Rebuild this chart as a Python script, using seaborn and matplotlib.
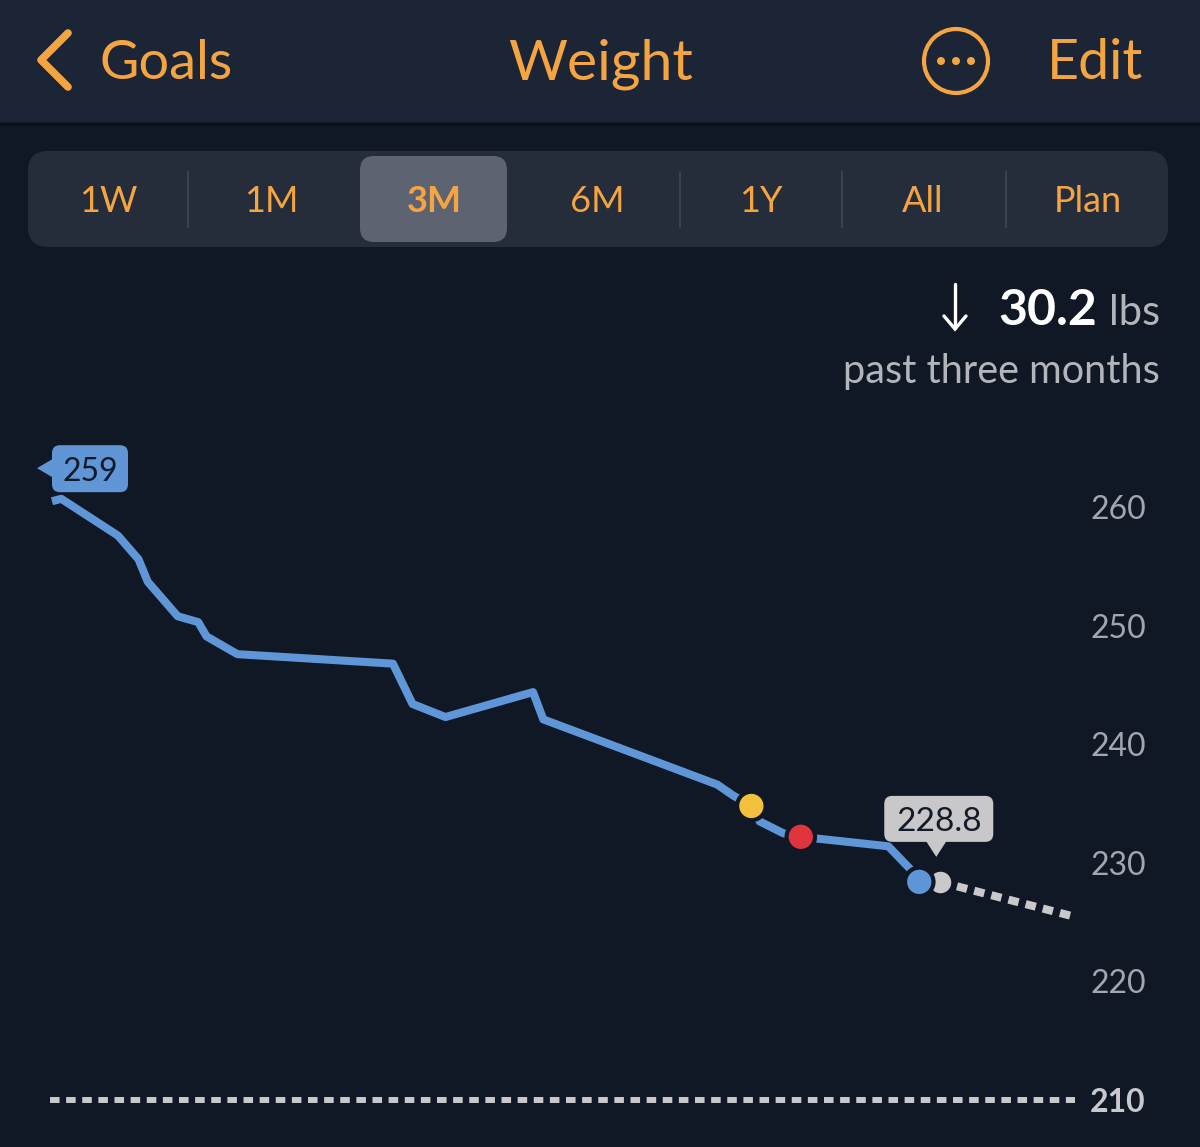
import matplotlib
matplotlib.use("Agg")
import matplotlib.pyplot as plt
import seaborn as sns
import pandas as pd
from matplotlib.patches import FancyBboxPatch, Polygon, Circle, Rectangle

# ---------------- data ----------------
days = [0.0, 0.9, 6.4, 8.4, 9.3, 12.2, 14.2, 15.0, 18.0, 33.1, 35.0, 38.2,
        46.7, 47.7, 64.6, 66.1, 67.9, 68.7, 71.0, 72.7, 81.2, 83.3, 84.2]
weights = [260.5, 260.7, 257.6, 255.6, 253.7, 250.8, 250.3, 249.1, 247.6, 246.8, 243.4, 242.3,
           244.4, 242.1, 236.6, 235.7, 234.8, 233.5, 232.5, 232.2, 231.4, 229.5, 228.4]
proj_days = [86.2, 99.1]
proj_weights = [228.4, 225.5]
marker_days = [67.9, 72.7, 84.2]
marker_weights = [234.8, 232.2, 228.4]
marker_kind = ["milestone", "alert", "latest"]
marker_colors = ["#f2c03c", "#e0343c", "#5e96d8"]
goal_weight = 210
goal_days = [-0.2, 99.3]
y_ticks = [210, 220, 230, 240, 250, 260]
periods = ["1W", "1M", "3M", "6M", "1Y", "All", "Plan"]
selected_period = "3M"
start_label = "259"
latest_label = "228.8"
change_value = "30.2"
change_unit = "lbs"
change_caption = "past three months"
title = "Weight"
back_label = "Goals"
edit_label = "Edit"

# ---------------- style ----------------
W, H = 1200, 1147
BG = "#101826"
HEADER = "#1b2535"
ORANGE = "#f5a442"
LINE = "#5f96d8"
GRAY_DOT = "#c9c9cb"
TICK = "#a3a6ad"

sns.set_theme(style="dark")
plt.rcParams['font.family'] = ['Lato', 'DejaVu Sans']

fig = plt.figure(figsize=(W / 100, H / 100), dpi=100, facecolor=BG)

# UI layer in pixel coordinates
ui = fig.add_axes([0, 0, 1, 1], zorder=0)
ui.set_xlim(0, W)
ui.set_ylim(H, 0)
ui.axis('off')

# header
ui.add_patch(Rectangle((0, 0), W, 122, fc=HEADER, ec='none'))
ui.plot([0, W], [123.5, 123.5], color='#0b121d', lw=2)
ui.plot([68, 41, 68], [33, 60, 87], color=ORANGE, lw=5.5,
        solid_capstyle='round', solid_joinstyle='round')
ui.text(100, 79, back_label, ha='left', va='baseline', fontsize=39, color=ORANGE)
ui.text(601, 79, title, ha='center', va='baseline', fontsize=41, color=ORANGE)
ui.add_patch(Circle((956, 61), 32, fill=False, ec=ORANGE, lw=3))
for cx in (941, 956, 971):
    ui.add_patch(Circle((cx, 61), 4, fc=ORANGE, ec='none'))
ui.text(1143, 79, edit_label, ha='right', va='baseline', fontsize=40, color=ORANGE)

# segmented control
ui.add_patch(FancyBboxPatch((28, 151), 1140, 96, boxstyle="round,pad=0,rounding_size=20",
                            fc="#252d3b", ec="none"))
ui.add_patch(FancyBboxPatch((360, 156), 147, 86, boxstyle="round,pad=0,rounding_size=14",
                            fc="#5e6371", ec="none"))
for d in (188, 680, 842, 1006):
    ui.plot([d, d], [172, 227], color='#3b4351', lw=1.5)
seg_x = [108, 271, 434, 597, 761, 923, 1088]
for lab, x in zip(periods, seg_x):
    ui.text(x, 212, lab, ha='center', va='baseline', fontsize=26, color=ORANGE,
            fontweight='bold' if lab == selected_period else 'normal')

# change summary
ui.plot([955, 955], [284, 328], color='white', lw=2.4, solid_capstyle='round')
ui.plot([944, 955, 966], [316, 329, 316], color='white', lw=2.4,
        solid_capstyle='round', solid_joinstyle='miter')
ui.text(1097, 325, change_value, ha='right', va='baseline', fontsize=36,
        fontweight='bold', color='white')
ui.text(1160, 325, change_unit, ha='right', va='baseline', fontsize=30,
        color='#b3b5ba')
ui.text(1160, 383, change_caption, ha='right', va='baseline', fontsize=28.5,
        color='#b3b5ba')

# ---------------- chart ----------------
ax = fig.add_axes([0, 0, 1085 / W, 1], zorder=1)
ax.set_facecolor('none')

df = pd.DataFrame({"day": days, "weight": weights})
sns.lineplot(data=df, x="day", y="weight", ax=ax, color=LINE, linewidth=5.8,
             solid_joinstyle='round', solid_capstyle='butt', zorder=2)

proj = pd.DataFrame({"day": proj_days, "weight": proj_weights})
sns.lineplot(data=proj, x="day", y="weight", ax=ax, color=GRAY_DOT, linewidth=5.8,
             linestyle=(0, (1.3, 0.9)), dash_capstyle='butt', zorder=2)

goal = pd.DataFrame({"day": goal_days, "weight": [goal_weight] * len(goal_days)})
sns.lineplot(data=goal, x="day", y="weight", ax=ax, color='#c9c9cb', linewidth=4.3,
             linestyle=(0, (1.6, 1.1)), dash_capstyle='butt', zorder=2)

sns.scatterplot(x=[proj_days[0]], y=[proj_weights[0]], ax=ax, color=GRAY_DOT,
                s=240, linewidth=0, zorder=4, legend=False)
mk = pd.DataFrame({"day": marker_days, "weight": marker_weights, "kind": marker_kind})
sns.scatterplot(data=mk, x="day", y="weight", hue="kind",
                palette=dict(zip(marker_kind, marker_colors)), ax=ax,
                s=420, edgecolor=BG, linewidth=3.0, zorder=5, legend=False)

ax.set_xlim(-52 / 10.3, (1085 - 52) / 10.3)
ax.set_ylim(260 - 641 / 11.88, 260 + 508 / 11.88)
ax.set_xticks([])
ax.set_yticks(y_ticks)
ax.set_yticklabels([str(t) for t in y_ticks])
ax.yaxis.tick_right()
ax.tick_params(axis='y', length=0, pad=5 * 0.72, labelsize=23, labelcolor=TICK)
for lab in ax.get_yticklabels():
    if lab.get_text() == str(goal_weight):
        lab.set_fontweight('bold')
        lab.set_color('#c8c9cc')
for s in ax.spines.values():
    s.set_visible(False)
ax.grid(False)
ax.set_xlabel('')
ax.set_ylabel('')


def px(x, y):
    X, Y = ax.transData.transform((x, y))
    return X, H - Y


# start bubble
sx, sy = px(days[0], weights[0])
ui.add_patch(FancyBboxPatch((sx, sy - 56), 76, 47, boxstyle="round,pad=0,rounding_size=8",
                            fc="#6096d6", ec="none"))
ui.add_patch(Polygon([(sx + 2, sy - 43), (sx - 15, sy - 33), (sx + 2, sy - 23)],
                     closed=True, fc="#6096d6", ec="none"))
ui.text(sx + 38, sy - 32.5, start_label, ha='center', va='center_baseline',
        fontsize=23, color='#0f1a2a')

# latest bubble
bx, by = px(marker_days[-1], marker_weights[-1])
ui.add_patch(FancyBboxPatch((bx - 35, by - 86), 109, 46, boxstyle="round,pad=0,rounding_size=8",
                            fc="#c8c8ca", ec="none"))
ui.add_patch(Polygon([(bx + 6, by - 42), (bx + 17, by - 25), (bx + 28, by - 42)],
                     closed=True, fc="#c8c8ca", ec="none"))
ui.text(bx + 19.5, by - 63, latest_label, ha='center', va='center_baseline',
        fontsize=24, color='#141b28')

fig.savefig("out.png", dpi=100, facecolor=BG)
